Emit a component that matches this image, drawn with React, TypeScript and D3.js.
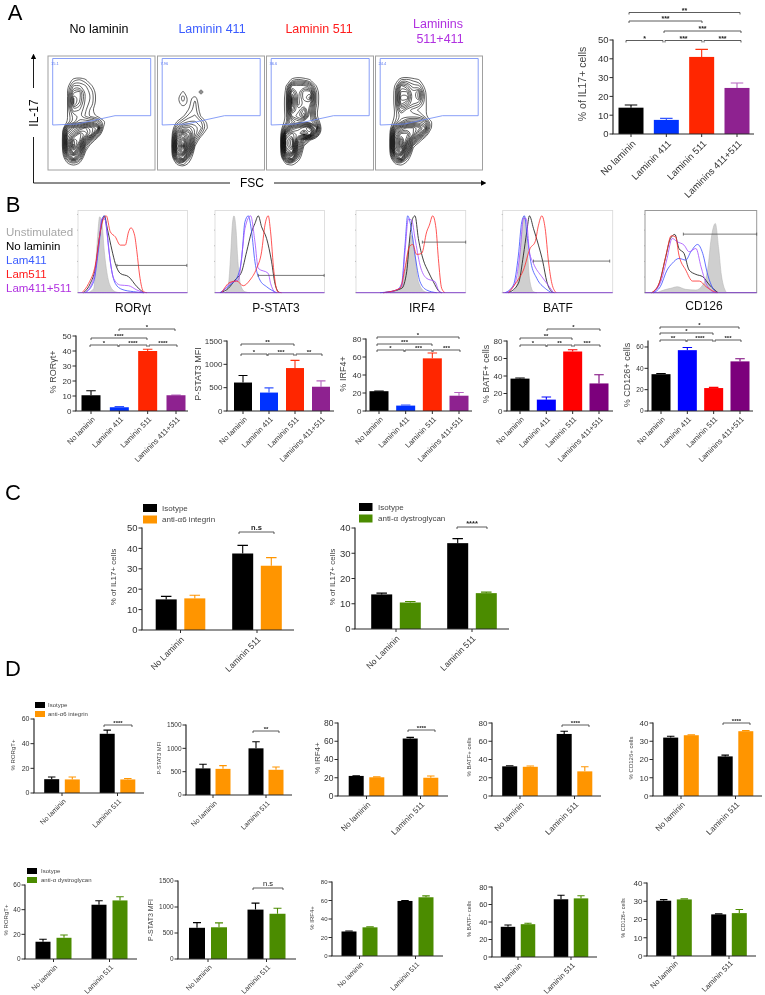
import React from "react";
import * as d3 from "d3";

// ---------- DATA ----------
const fourCats = ["No laminin", "Laminin 411", "Laminin 511", "Laminins 411+511"];
const pairCatsC = ["No Laminin", "Laminin 511"];
const pairCatsD = ["No laminin", "Laminin 511"];

const il17Means = [14, 7.5, 41, 24.5];
const il17Errs = [1.4, 0.8, 4, 2.6];
const rorMeans = [10.5, 2.5, 40, 10.5];
const rorErrs = [3, 0.4, 1.2, 0.2];
const stat3Means = [610, 395, 920, 520];
const stat3Errs = [150, 100, 165, 125];
const irf4Means = [22, 6, 58.5, 17];
const irf4Errs = [0.3, 0.6, 6, 3.5];
const batfMeans = [37, 13, 68, 31.5];
const batfErrs = [0.8, 3, 2, 10];
const cd126Means = [34.5, 57, 21.5, 46.5];
const cd126Errs = [0.6, 2.5, 0.6, 2.5];

const cA6Means = [15, 15.5, 37.5, 31.5];
const cA6Errs = [1.5, 1.5, 4, 4];
const cDgMeans = [13.7, 10.5, 34, 14.2];
const cDgErrs = [0.5, 0.4, 1.8, 0.4];

const dA6Ror = [11.2, 11, 48, 11];
const dA6RorE = [1.8, 2, 3, 0.8];
const dA6Stat = [570, 560, 1000, 540];
const dA6StatE = [90, 70, 140, 60];
const dA6Irf = [22, 20.5, 63, 20];
const dA6IrfE = [0.2, 0.5, 1.2, 2];
const dA6Batf = [32.5, 32, 68, 27];
const dA6BatfE = [0.7, 0.8, 3, 5];
const dA6Cd = [32, 33.3, 21.7, 35.5];
const dA6CdE = [0.7, 0.2, 0.7, 0.3];

const dDgRor = [14, 17.2, 44, 47.5];
const dDgRorE = [2, 2.2, 3.2, 3];
const dDgStat = [600, 610, 950, 870];
const dDgStatE = [100, 85, 125, 105];
const dDgIrf = [26.5, 31, 59.5, 63.5];
const dDgIrfE = [0.5, 0.5, 0.5, 1.5];
const dDgBatf = [34.5, 37.5, 66, 67];
const dDgBatfE = [2, 1, 4.5, 3];
const dDgCd = [30.3, 31, 22.8, 23.5];
const dDgCdE = [0.6, 0.3, 0.3, 2];

// histograms: [channel, count]
const rorHist = {
  gray: [[29,0],[47,12],[55,110],[60,185],[65,228],[72,210],[79,125],[87,60],[97,20],[112,3],[127,0]],
  black: [[17,0],[37,28],[52,73],[64,163],[72,213],[79,231],[89,188],[102,128],[112,88],[127,58],[152,48],[177,18],[197,0]],
  blue: [[22,0],[47,33],[62,133],[72,218],[79,231],[87,183],[97,93],[112,28],[132,10],[167,3],[197,0]],
  red: [[12,0],[32,28],[52,83],[67,183],[77,223],[85,231],[97,183],[112,168],[127,143],[142,143],[152,183],[159,195],[170,173],[177,123],[185,53],[197,3],[207,0]],
  purple: [[22,0],[47,43],[62,143],[72,223],[82,218],[92,133],[107,43],[127,23],[152,21],[177,8],[197,0]],
};
const stat3Hist = {
  gray: [[30,0],[40,23],[47,113],[52,203],[57,231],[63,193],[69,93],[77,23],[90,3],[105,0]],
  black: [[15,0],[40,13],[60,38],[80,63],[95,123],[110,183],[120,208],[130,231],[140,198],[155,163],[170,93],[180,28],[193,0]],
  blue: [[15,0],[45,23],[65,43],[80,103],[90,213],[100,231],[110,183],[120,93],[135,38],[155,18],[185,0]],
  red: [[20,0],[45,31],[65,35],[85,21],[105,38],[125,73],[140,123],[150,203],[160,231],[167,183],[177,63],[188,3],[200,0]],
  purple: [[20,0],[50,31],[70,38],[83,133],[90,193],[107,231],[120,153],[130,73],[160,58],[167,28],[180,0]],
};
const irf4Hist = {
  gray: [[102,0],[137,18],[147,73],[157,133],[167,173],[177,113],[187,33],[207,3],[220,0]],
  black: [[82,0],[137,13],[152,63],[162,173],[170,223],[177,231],[187,163],[202,98],[217,63],[232,33],[250,3],[257,0]],
  blue: [[72,0],[122,8],[137,28],[147,143],[155,231],[164,203],[177,113],[192,33],[212,8],[242,0]],
  red: [[82,0],[132,13],[147,73],[160,138],[170,145],[182,115],[197,118],[212,183],[220,203],[230,231],[240,193],[247,103],[257,13],[267,0]],
  purple: [[92,0],[137,18],[147,123],[157,221],[167,218],[177,163],[192,83],[212,43],[237,33],[247,8],[257,0]],
};
const batfHist = {
  gray: [[27,0],[42,23],[52,113],[59,203],[64,231],[72,163],[80,43],[92,3],[102,0]],
  black: [[17,0],[47,28],[62,113],[72,183],[80,231],[92,193],[107,143],[120,93],[132,33],[147,3],[154,0]],
  blue: [[7,0],[32,23],[47,113],[57,213],[65,231],[74,163],[84,93],[102,43],[127,13],[147,0]],
  red: [[17,0],[42,33],[62,68],[82,133],[97,153],[107,203],[117,231],[127,193],[137,93],[147,28],[160,0]],
  purple: [[12,0],[37,28],[52,123],[62,223],[70,223],[80,123],[92,88],[117,48],[132,28],[152,0]],
};
const cd126Hist = {
  gray: [[35,0],[55,8],[75,13],[95,18],[120,10],[150,8],[170,23],[185,73],[195,163],[207,208],[217,133],[225,53],[240,0]],
  black: [[20,0],[40,23],[60,103],[75,163],[88,175],[100,133],[115,118],[130,68],[150,55],[170,48],[190,23],[215,0]],
  blue: [[25,0],[45,18],[65,68],[80,88],[100,103],[120,98],[135,123],[155,145],[170,118],[185,53],[200,13],[215,0]],
  red: [[20,0],[45,38],[63,118],[77,171],[90,168],[100,113],[120,68],[140,35],[160,35],[180,18],[205,3],[215,0]],
  purple: [[25,0],[50,43],[65,103],[80,163],[95,153],[115,143],[130,123],[150,133],[165,78],[180,28],[200,3],[210,0]],
};

// flow cytometry density (relative event density on a coarse grid)
const densNoLaminin = [
  [0,0,0,0,0,0,0,0,0],
  [0,0,1.5,1.8,1.3,0,0,0,0],
  [0,0.9,3,3,2.4,1.3,0,0,0],
  [0,1.1,4.5,5,2.8,2,0.6,0,0],
  [0,1.1,6,5,2.8,2.2,0.6,0,0],
  [0,1.1,6,4.5,2.6,2,0.6,0,0],
  [0,1.1,4,3.5,2.4,1.3,0,0,0],
  [0,1.1,2.5,3,2.2,1.3,1,0,0],
  [0,1.1,2.5,4,4,4,3.5,1.5,0],
  [0,5,7,8,9,8,7,1,0],
  [0,7,9,11,10,8,3,0,0],
  [0,8,12,11,6,2.5,0,0,0],
  [0,8,13,9,2.5,0,0,0,0],
  [0,6,10,6,1,0,0,0,0],
  [0,3,6,3,0,0,0,0,0],
  [0,0.9,1.5,0.9,0,0,0,0,0],
  [0,0,0,0,0,0,0,0,0],
];
const densLam411 = [
  [0,0,0,0,0,0,0,0,0],
  [0,0,0,0,0,0,0,0,0],
  [0,0,0,0,0,0,0,0,0],
  [0,0,1.3,0,0,2,0,0,0],
  [0,0.9,2.2,0.8,1.6,0,0,0,0],
  [0,0.6,1.6,0.8,2,0.3,0,0,0],
  [0,0,0.4,1.2,2,0.6,0,0,0],
  [0,0,0.9,2,2.4,1,0,0,0],
  [0,1.2,2.5,3,3,2.4,1,0,0],
  [0,3,5,5,4,3,1.2,0,0],
  [0,6,9,7,4,1.8,0,0,0],
  [0,8,11,7,2.5,0,0,0,0],
  [0,9,13,7,1.1,0,0,0,0],
  [0,8,11,5,0,0,0,0,0],
  [0,5,7,2,0,0,0,0,0],
  [0,1.2,2,0.8,0,0,0,0,0],
  [0,0,0,0,0,0,0,0,0],
];
const densLam511 = [
  [0,0,0,0,0,0,0,0,0],
  [0,0,1.5,2,1.6,1.2,0,0,0],
  [0,1.1,5,5,5,4,1.2,0,0],
  [0,1.3,7,5,7,7,2,0,0],
  [0,1.5,9,5,7,8,2,0,0],
  [0,1.5,9,5,6,6,2,0,0],
  [0,1.5,8,6,8,5,1.5,0,0],
  [0,1.3,6,7,9,5,1.3,0,0],
  [0,1.5,4,5,5,5,3,0,0],
  [0,4,8,9,10,11,7,0.5,0],
  [0,9,11,10,12,10,4,0,0],
  [0,11,13,7,3.5,1.2,0,0,0],
  [0,11,13,5,1,0,0,0,0],
  [0,9,11,4,0,0,0,0,0],
  [0,5,7,2,0,0,0,0,0],
  [0,1.1,1.5,0.5,0,0,0,0,0],
  [0,0,0,0,0,0,0,0,0],
];
const densLamBoth = [
  [0,0,0,0,0,0,0,0,0],
  [0,0.5,1.8,2,1.5,1.2,0,0,0],
  [0,1.2,5,4,2.5,2.5,0.8,0,0],
  [0,1.4,6,6,3.5,5,1.3,0,0],
  [0,1.4,7,7,3.5,5,1.4,0,0],
  [0,1.4,6,5,3.5,3,1.4,0,0],
  [0,1.2,4,2.5,2,1.5,1.4,0,0],
  [0,1.2,2.5,2.5,2.5,2.5,1.4,0,0],
  [0,1.7,3.5,5,5,5,4,1.3,0],
  [0,5,8,9,9,8,6,1.2,0],
  [0,8,11,11,9,6,2.5,0,0],
  [0,9,13,10,5,2,0,0,0],
  [0,9,13,7,1.5,0,0,0,0],
  [0,8,11,5,0.4,0,0,0,0],
  [0,4,7,2,0,0,0,0,0],
  [0,1,1.5,0.6,0,0,0,0,0],
  [0,0,0,0,0,0,0,0,0],
];
const gatePercents = ["15.1", "7.96", "36.6", "24.4"];
const flowTitles = ["No laminin", "Laminin 411", "Laminin 511"];
const histLegend = ["Unstimulated", "No laminin", "Lam411", "Lam511", "Lam411+511"];

// ---------- STYLE ----------
const FONT = "'Liberation Sans', Arial, sans-serif";
const INK = "#2a2a2a";
const colsA = ["#000000", "#0433ff", "#ff2600", "#8e2390"];
const errsA = ["#000000", "#3355ff", "#ff3010", "#b565c0"];
const colsB = ["#000000", "#0000ff", "#ff0000", "#7b007b"];
const ORANGE = "#ff9500";
const GREEN = "#4c8c00";
const HC = { black: "#111111", blue: "#3a4dff", red: "#ff2a2a", purple: "#a24bff" };

type B = [number, number, number, string];

function fourX(first: number, last: number) {
  const s = d3.scalePoint<string>().domain(fourCats).range([first, last]);
  return fourCats.map((c) => s(c) as number);
}
function pairX(cats: string[], g0: number, g1: number, d: number) {
  const s = d3.scalePoint<string>().domain(cats).range([g0, g1]);
  const a = s(cats[0]) as number;
  const b = s(cats[1]) as number;
  return [a - d, a + d, b - d, b + d];
}

function Bars(p: any) {
  const y = d3.scaleLinear().domain([0, p.yMax]).range([p.y0, p.yTop]);
  const tk = p.tickFont ?? 8;
  const ticks: number[] = d3.range(0, p.yMax + 1e-6, p.step);
  const cats: string[] = p.cats;
  const tickXs: number[] =
    cats.length === 4 ? p.cx : [(p.cx[0] + p.cx[1]) / 2, (p.cx[2] + p.cx[3]) / 2];
  const off = p.labelOff ?? [2.5, 7];
  return (
    <g fontFamily={FONT}>
      {p.means.map((m: number, i: number) => {
        const c = p.colors[i];
        const ec = (p.errColors ?? p.colors)[i];
        const cx = p.cx[i];
        const top = y(m + p.errs[i]);
        return (
          <g key={i}>
            <path d={`M${cx} ${y(m)}V${top}M${cx - p.w / 4} ${top}H${cx + p.w / 4}`} stroke={ec} strokeWidth={1.1} fill="none" />
            <rect x={cx - p.w / 2} y={y(m)} width={p.w} height={p.y0 - y(m)} fill={c} />
          </g>
        );
      })}
      <line x1={p.x} x2={p.x} y1={p.yTop - 0.5} y2={p.y0} stroke={INK} strokeWidth={1.2} />
      <line x1={p.x - 0.6} x2={p.xEnd} y1={p.y0} y2={p.y0} stroke={INK} strokeWidth={1.2} />
      {ticks.map((t) => (
        <g key={t}>
          <line x1={p.x - 3.5} x2={p.x} y1={y(t)} y2={y(t)} stroke={INK} strokeWidth={1} />
          <text x={p.x - 4.5} y={y(t)} dy="0.35em" textAnchor="end" fontSize={tk} fill="#333">{t}</text>
        </g>
      ))}
      {tickXs.map((tx, i) => (
        <g key={i}>
          <line x1={tx} x2={tx} y1={p.y0} y2={p.y0 + 3} stroke={INK} strokeWidth={1} />
          <text transform={`translate(${tx + off[0]},${p.y0 + off[1]}) rotate(-45)`} dy="0.35em" textAnchor="end" fontSize={p.xFont} fill="#333">{cats[i]}</text>
        </g>
      ))}
      <text transform={`translate(${p.lx},${p.ly}) rotate(-90)`} dy="0.35em" textAnchor="middle" fontSize={p.lf} fill="#444">{p.label}</text>
      {(p.brackets ?? []).map((b: B, i: number) => (
        <g key={i}>
          <path d={`M${b[0]} ${b[2] + 2}V${b[2]}H${b[1]}V${b[2] + 2}`} fill="none" stroke="#333" strokeWidth={0.8} />
          <text x={(b[0] + b[1]) / 2} y={b[2] + (p.bOff ?? 0)} textAnchor="middle" fontSize={p.bf ?? 6} fontWeight={p.bw ?? "bold"} fill="#222">{b[3]}</text>
        </g>
      ))}
    </g>
  );
}

function Legend({ x, y, sw, sh, gap, textX, fs, items }: any) {
  return (
    <g fontFamily={FONT}>
      {items.map((it: any, i: number) => (
        <g key={i}>
          <rect x={x} y={y + i * gap} width={sw} height={sh} fill={it[1]} />
          <text x={textX} y={y + i * gap + sh / 2} dy="0.35em" fontSize={fs} fill="#444">{it[0]}</text>
        </g>
      ))}
    </g>
  );
}

function Flow({ x, w, grid, pct }: any) {
  const top = 56, h = 114;
  const rows = grid.length, cols = grid[0].length;
  const gen = d3.contours().size([cols, rows]).thresholds(d3.range(1.1, 13, 0.6));
  const sx = d3.scaleLinear().domain([0.5, 1.5]).range([x + 13.5, x + 19.5]);
  const sy = d3.scaleLinear().domain([0.5, 1.5]).range([top + 18, top + 24]);
  const line = d3.line().x((d) => sx(d[0])).y((d) => sy(d[1])).curve(d3.curveBasisClosed);
  const paths: string[] = [];
  gen(grid.flat()).forEach((mp: any) => {
    mp.coordinates.forEach((poly: any) => poly.forEach((ring: any) => {
      paths.push(line(ring.slice(0, -1)) as string);
    }));
  });
  const gate = [[4.7, 2.5], [102.7, 2.5], [102.7, 59.7], [67, 59.7], [29, 68], [4.7, 69]];
  return (
    <g fontFamily={FONT}>
      {paths.map((d, i) => <path key={i} d={d} fill="none" stroke="#000" strokeWidth={0.62} />)}
      <polygon points={gate.map((g) => `${x + g[0]},${top + g[1]}`).join(" ")} fill="none" stroke="#6a86f5" strokeWidth={0.8} />
      <rect x={x} y={top} width={w} height={h} fill="none" stroke="#a0a0a0" strokeWidth={1} />
      <text x={x + 3} y={top + 8.5} fontSize={4} fill="#5a78f0">{pct}</text>
    </g>
  );
}

function Hist({ x, w, data, gate, thick }: any) {
  const top = 210.5, bottom = 292.7;
  const sx = d3.scaleLinear().domain([0, 329]).range([x, x + w]);
  const sy = d3.scaleLinear().domain([0, 247]).range([bottom, top]);
  const line = d3.line().x((d) => sx(d[0])).y((d) => sy(d[1])).curve(d3.curveMonotoneX);
  const area = d3.area().x((d) => sx(d[0])).y0(bottom).y1((d) => sy(d[1])).curve(d3.curveMonotoneX);
  return (
    <g>
      <rect x={x} y={top} width={w} height={bottom - top} fill="none" stroke={thick ? "#999" : "#d8d8d8"} strokeWidth={thick ? 1 : 0.8} />
      <path d={area(data.gray) as string} fill="#cfcfcf" stroke="#b0b0b0" strokeWidth={0.5} />
      {(["black", "blue", "purple", "red"] as const).map((k) => (
        <path key={k} d={line(data[k]) as string} fill="none" stroke={HC[k]} strokeWidth={0.8} />
      ))}
      <line x1={x} x2={x + w} y1={bottom} y2={bottom} stroke="#7a35c8" strokeWidth={0.9} />
      <path d={`M${sx(gate[0])} ${sy(gate[2]) - 1.5}v3M${sx(gate[0])} ${sy(gate[2])}H${sx(gate[1])}M${sx(gate[1])} ${sy(gate[2]) - 1.5}v3`} stroke="#555" strokeWidth={0.8} fill="none" />
      {d3.range(0, 6).map((i) => (
        <line key={i} x1={x - 1} x2={x} y1={sy(i * 47)} y2={sy(i * 47)} stroke="#888" strokeWidth={0.5} />
      ))}
    </g>
  );
}

export default function App() {
  const t = (x: number, y: number, s: string, fs: number, fill: string, anchor = "middle", extra: any = {}) => (
    <text x={x} y={y} dy="0.35em" textAnchor={anchor as any} fontSize={fs} fill={fill} fontFamily={FONT} {...extra}>{s}</text>
  );
  const isoA6 = [["Isotype", "#000"], ["anti-α6 integrin", ORANGE]];
  const isoDg = [["Isotype", "#000"], ["anti-α dystroglycan", GREEN]];
  const pairO = ["#000", ORANGE, "#000", ORANGE];
  const pairG = ["#000", GREEN, "#000", GREEN];
  const ps = { cats: fourCats, w: 19, xFont: 7.5, tickFont: 8, lf: 9, bf: 6, bOff: 0 };
  const pd = { cats: pairCatsD, w: 15, xFont: 7, bf: 6, bOff: 0 };
  return (
    <svg width={765} height={995} viewBox="0 0 765 995" style={{ position: "absolute", left: 0, top: 0, display: "block", background: "#fff" }}>
      <defs>
        <filter id="soft" x="0" y="0" width="100%" height="100%"><feGaussianBlur stdDeviation="0.4" /></filter>
        <marker id="arr" viewBox="0 0 8 8" refX="6" refY="4" markerWidth="6" markerHeight="6" orient="auto"><path d="M0 0L8 4L0 8z" fill="#000" /></marker>
      </defs>
      <g filter="url(#soft)">
        <rect width={765} height={995} fill="#fff" />
        {t(15, 12, "A", 22, "#000")}
        {t(13, 204, "B", 22, "#000")}
        {t(13, 492, "C", 22, "#000")}
        {t(13, 668, "D", 22, "#000")}

        {/* Panel A flow */}
        {t(99, 29, flowTitles[0], 12.5, "#000")}
        {t(212, 29, flowTitles[1], 12.5, "#3a5cff")}
        {t(319, 29, flowTitles[2], 12.5, "#ff1a1a")}
        {t(438, 24, "Laminins", 12.5, "#b030e0")}
        {t(440, 39, "511+411", 12.5, "#b030e0")}
        <Flow x={48} w={107} grid={densNoLaminin} pct={gatePercents[0]} />
        <Flow x={157.5} w={107} grid={densLam411} pct={gatePercents[1]} />
        <Flow x={266.5} w={107} grid={densLam511} pct={gatePercents[2]} />
        <Flow x={375.5} w={107} grid={densLamBoth} pct={gatePercents[3]} />
        <path d="M33.5 88V55" stroke="#000" strokeWidth={0.9} markerEnd="url(#arr)" />
        <path d="M33.5 137V183H230M274 183H485" stroke="#000" strokeWidth={0.9} fill="none" markerEnd="url(#arr)" />
        <text transform="translate(34,113) rotate(-90)" dy="0.35em" textAnchor="middle" fontSize={12} fontFamily={FONT}>IL-17</text>
        {t(252, 183, "FSC", 12, "#000")}

        {/* Panel A bars */}
        <Bars cats={fourCats} x={613} xEnd={754} y0={134} yTop={40} yMax={50} step={10} cx={fourX(631, 737)} w={25}
          means={il17Means} errs={il17Errs} colors={colsA} errColors={errsA} tickFont={9.5} xFont={9.5} labelOff={[3, 8]}
          label="% of IL17+ cells" lx={582} ly={84} lf={10.5} bf={7} 
          brackets={[[626, 663, 40.5, "*"], [665, 702, 40.5, "***"], [704, 741, 40.5, "***"], [664, 741, 31, "***"], [629, 702, 21, "***"], [629, 740, 12.5, "**"]] as B[]} />

        {/* Panel B histograms */}
        {histLegend.map((s, i) => t(6, 232 + i * 14, s, 11.5, ["#a8a8a8", "#000", "#3a5cff", "#ff1a1a", "#b030e0"][i], "start"))}
        <Hist x={78} w={109.5} data={rorHist} gate={[117, 327, 82]} />
        <Hist x={215} w={109.5} data={stat3Hist} gate={[130, 328, 52]} />
        <Hist x={356} w={109.7} data={irf4Hist} gate={[199, 329, 152]} />
        <Hist x={502.7} w={110} data={batfHist} gate={[92, 320, 95]} />
        <Hist x={645} w={111.7} data={cd126Hist} gate={[113, 329, 176]} thick />
        {t(133, 308, "RORγt", 12, "#111")}
        {t(276, 308, "P-STAT3", 12, "#111")}
        {t(422, 308, "IRF4", 12, "#111")}
        {t(558, 308, "BATF", 12, "#111")}
        {t(704, 306, "CD126", 12, "#111")}

        {/* Panel B bars */}
        <Bars {...ps} x={76} xEnd={188} y0={411} yTop={336} yMax={50} step={10} cx={fourX(91, 176)} means={rorMeans} errs={rorErrs} colors={colsA} errColors={errsA}
          label="% RORγt+" lx={53} ly={372}
          brackets={[[90, 118, 345, "*"], [119, 147, 345, "****"], [149, 177, 345, "****"], [91, 147, 338, "****"], [119, 175, 329, "*"]] as B[]} />
        <Bars {...ps} w={18} x={227} xEnd={334} y0={411} yTop={341} yMax={1500} step={500} cx={fourX(243, 321)} means={stat3Means} errs={stat3Errs} colors={colsA} errColors={errsA}
          label="P-STAT3 MFI" lx={198} ly={374}
          brackets={[[241, 267, 354, "*"], [268, 294, 354, "***"], [296, 322, 354, "**"], [241, 294, 344, "**"]] as B[]} />
        <Bars {...ps} x={366} xEnd={472} y0={411} yTop={339} yMax={80} step={20} cx={fourX(379, 459)} means={irf4Means} errs={irf4Errs} colors={colsA} errColors={errsA}
          label="% IRF4+" lx={343} ly={374}
          brackets={[[377, 404, 350, "*"], [405, 432, 350, "***"], [433, 460, 350, "***"], [377, 432, 344, "***"], [377, 459, 337, "*"]] as B[]} />
        <Bars {...ps} x={507} xEnd={613} y0={411} yTop={341} yMax={80} step={20} cx={fourX(520, 599)} means={batfMeans} errs={batfErrs} colors={colsB}
          label="% BATF+ cells" lx={486} ly={374}
          brackets={[[520, 546, 345, "*"], [547, 572, 345, "**"], [574, 600, 345, "***"], [520, 572, 338, "**"], [547, 600, 329, "*"]] as B[]} />
        <Bars {...ps} x={648} xEnd={753} y0={411} yTop={341} yMax={65.6} step={20} tickFont={6.5} cx={fourX(661, 740)} means={cd126Means} errs={cd126Errs} colors={colsB}
          label="% CD126+ cells" lx={627} ly={375}
          brackets={[[660, 686, 340, "**"], [687, 713, 340, "****"], [715, 741, 340, "***"], [660, 713, 333, "*"], [660, 739, 327, "*"]] as B[]} />

        {/* Panel C */}
        <Legend x={143} y={504} sw={14} sh={8} gap={11.5} textX={162} fs={8} items={isoA6} />
        <Legend x={359} y={503} sw={13.5} sh={8} gap={11.5} textX={378} fs={8} items={isoDg} />
        <Bars cats={pairCatsC} x={142} xEnd={294} y0={630} yTop={528} yMax={50} step={10} cx={pairX(pairCatsC, 180.5, 257, 14.3)} w={21}
          means={cA6Means} errs={cA6Errs} colors={pairO} tickFont={9.5} xFont={8.5} labelOff={[2, 8]} label="% of IL17+ cells" lx={113} ly={577} lf={8} bf={7.5} bOff={-2}
          brackets={[[239, 274, 532, "n.s"]] as B[]} />
        <Bars cats={pairCatsC} x={355} xEnd={509} y0={629} yTop={528} yMax={40} step={10} cx={pairX(pairCatsC, 396, 472, 14.3)} w={21}
          means={cDgMeans} errs={cDgErrs} colors={pairG} tickFont={9.5} xFont={8.5} labelOff={[2, 8]} label="% of IL17+ cells" lx={332} ly={577} lf={8} bf={7.5} bOff={-1}
          brackets={[[457, 487, 527, "****"]] as B[]} />

        {/* Panel D row 1 */}
        <Legend x={35} y={702} sw={10} sh={6} gap={9} textX={48} fs={6} items={isoA6} />
        <Bars {...pd} x={34} xEnd={144} y0={793} yTop={719} yMax={60} step={20} cx={pairX(pairCatsD, 62, 117.5, 10.3)} means={dA6Ror} errs={dA6RorE} colors={pairO} tickFont={7} label="% RORgT+" lx={13} ly={755} lf={6}
          brackets={[[104, 132, 725, "****"]] as B[]} />
        <Bars {...pd} x={186} xEnd={292} y0={795} yTop={725} yMax={1500} step={500} cx={pairX(pairCatsD, 213, 266, 10)} means={dA6Stat} errs={dA6StatE} colors={pairO} tickFont={6.5} label="P-STAT3 MFI" lx={159} ly={758} lf={5.5}
          brackets={[[253, 279, 731, "**"]] as B[]} />
        <Bars {...pd} x={338} xEnd={448} y0={796} yTop={723} yMax={80} step={20} cx={pairX(pairCatsD, 366.5, 420.5, 10.3)} means={dA6Irf} errs={dA6IrfE} colors={pairO} tickFont={8.5} xFont={8} label="% IRF4+" lx={317} ly={758} lf={8}
          brackets={[[408, 435, 730, "****"]] as B[]} />
        <Bars {...pd} x={492} xEnd={601} y0={796} yTop={723} yMax={80} step={20} cx={pairX(pairCatsD, 520, 574.5, 10.3)} means={dA6Batf} errs={dA6BatfE} colors={pairO} tickFont={8} xFont={8} label="% BATF+ cells" lx={469} ly={757} lf={6}
          brackets={[[562, 589, 725, "****"]] as B[]} />
        <Bars {...pd} x={653} xEnd={762} y0={796} yTop={723} yMax={40} step={10} cx={pairX(pairCatsD, 681, 735.5, 10.3)} means={dA6Cd} errs={dA6CdE} colors={pairO} tickFont={8} xFont={8} label="% CD126+ cells" lx={631} ly={758} lf={6}
          brackets={[[723, 750, 723, "****"]] as B[]} />

        {/* Panel D row 2 */}
        <Legend x={27} y={868} sw={10} sh={6} gap={9} textX={41} fs={6} items={isoDg} />
        <Bars {...pd} x={25} xEnd={137} y0={959} yTop={885} yMax={60} step={20} cx={pairX(pairCatsD, 53.5, 109.5, 10.5)} means={dDgRor} errs={dDgRorE} colors={pairG} tickFont={6.5} label="% RORgT+" lx={6} ly={920} lf={6} />
        <Bars {...pd} w={16} x={178} xEnd={296} y0={959} yTop={881} yMax={1500} step={500} cx={pairX(pairCatsD, 208, 266.5, 11)} means={dDgStat} errs={dDgStatE} colors={pairG} tickFont={6.5} label="P-STAT3 MFI" lx={151} ly={920} lf={7} bw="normal" bf={7.5} bOff={-2.5}
          brackets={[[253, 283, 888, "n.s"]] as B[]} />
        <Bars {...pd} x={332} xEnd={443} y0={956} yTop={882} yMax={80} step={20} cx={pairX(pairCatsD, 359.5, 415.5, 10.5)} means={dDgIrf} errs={dDgIrfE} colors={pairG} tickFont={6} label="% IRF4+" lx={312} ly={918} lf={6} />
        <Bars {...pd} w={14.5} x={492} xEnd={597} y0={957} yTop={887} yMax={80} step={20} cx={pairX(pairCatsD, 518, 571, 10)} means={dDgBatf} errs={dDgBatfE} colors={pairG} tickFont={7.5} xFont={7.5} label="% BATF+ cells" lx={469} ly={919} lf={5.5} />
        <Bars {...pd} x={647} xEnd={756} y0={956} yTop={883} yMax={40} step={10} cx={pairX(pairCatsD, 674, 729, 10.3)} means={dDgCd} errs={dDgCdE} colors={pairG} tickFont={8} xFont={7.5} labelOff={[2.5, 6]} label="% CD126+ cells" lx={623} ly={918} lf={5.5} />
      </g>
    </svg>
  );
}
